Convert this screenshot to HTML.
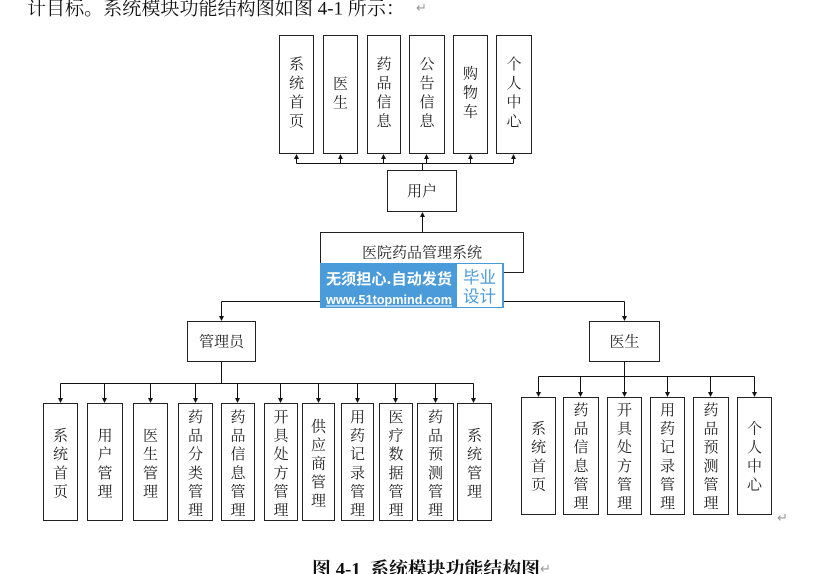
<!DOCTYPE html>
<html><head><meta charset="utf-8"><style>
html,body{margin:0;padding:0;background:#fff;width:827px;height:574px;overflow:hidden}
svg{display:block}
.t{font-family:"Liberation Serif","Noto Serif CJK SC",serif;font-size:15px;fill:#222;text-anchor:middle}
.l{stroke:#111;stroke-width:1;fill:none}
.b{stroke:#222;stroke-width:1;fill:#fff}
.a{fill:#111}
.rm{font-family:"DejaVu Sans",sans-serif;font-size:13px;fill:#999}
</style></head><body>
<svg width="827" height="574" viewBox="0 0 827 574" xmlns="http://www.w3.org/2000/svg">
<!-- top paragraph text -->
<text x="27" y="14.5" textLength="378" lengthAdjust="spacingAndGlyphs" style="font-family:'Liberation Serif','Noto Serif CJK SC',serif;font-size:19px;fill:#111">计目标。系统模块功能结构图如图 4-1 所示：</text>
<text class="rm" x="416" y="12">↵</text>

<!-- top boxes -->
<rect class="b" x="279.5" y="35.5" width="34" height="118"/>
<rect class="b" x="323.5" y="35.5" width="34" height="118"/>
<rect class="b" x="367.5" y="35.5" width="33" height="118"/>
<rect class="b" x="409.5" y="35.5" width="35" height="118"/>
<rect class="b" x="453.5" y="35.5" width="34" height="118"/>
<rect class="b" x="496.5" y="35.5" width="35" height="118"/>
<text class="t"><tspan x="296.5" y="69">系</tspan><tspan x="296.5" y="88">统</tspan><tspan x="296.5" y="107">首</tspan><tspan x="296.5" y="126">页</tspan></text>
<text class="t"><tspan x="340.5" y="88.5">医</tspan><tspan x="340.5" y="107.5">生</tspan></text>
<text class="t"><tspan x="384" y="69">药</tspan><tspan x="384" y="88">品</tspan><tspan x="384" y="107">信</tspan><tspan x="384" y="126">息</tspan></text>
<text class="t"><tspan x="427" y="69">公</tspan><tspan x="427" y="88">告</tspan><tspan x="427" y="107">信</tspan><tspan x="427" y="126">息</tspan></text>
<text class="t"><tspan x="470.5" y="78.5">购</tspan><tspan x="470.5" y="97.5">物</tspan><tspan x="470.5" y="116.5">车</tspan></text>
<text class="t"><tspan x="514" y="69">个</tspan><tspan x="514" y="88">人</tspan><tspan x="514" y="107">中</tspan><tspan x="514" y="126">心</tspan></text>

<!-- top connectors -->
<path class="l" d="M296.5 163.5H513.5 M296.5 163.5V158 M340.5 163.5V158 M383.5 163.5V158 M426.5 163.5V158 M470.5 163.5V158 M513.5 163.5V158 M422.5 163.5V170"/>
<polygon class="a" points="294,159 299,159 296.5,154"/>
<polygon class="a" points="338,159 343,159 340.5,154"/>
<polygon class="a" points="381,159 386,159 383.5,154"/>
<polygon class="a" points="424,159 429,159 426.5,154"/>
<polygon class="a" points="468,159 473,159 470.5,154"/>
<polygon class="a" points="511,159 516,159 513.5,154"/>

<!-- 用户 -->
<rect class="b" x="387.5" y="170.5" width="69" height="41"/>
<text class="t" x="422" y="196">用户</text>
<path class="l" d="M422.5 232V216"/>
<polygon class="a" points="420,217 425,217 422.5,212"/>

<!-- main box -->
<rect class="b" x="320.5" y="232.5" width="203" height="40"/>
<text class="t" x="422" y="257.5">医院药品管理系统</text>

<!-- second level connectors -->
<path class="l" d="M422.5 273V301.5 M221.5 301.5H624.5 M221.5 301.5V316 M624.5 301.5V316"/>
<polygon class="a" points="219,316 224,316 221.5,321"/>
<polygon class="a" points="622,316 627,316 624.5,321"/>

<!-- watermark -->
<rect x="320" y="263" width="184" height="45" fill="#4a9bd9"/>
<rect x="457" y="264" width="45" height="43" fill="#fff"/>
<text x="326" y="284" textLength="126" lengthAdjust="spacingAndGlyphs" style="font-family:'Noto Sans CJK SC',sans-serif;font-weight:bold;font-size:15px;fill:#fff">无须担心.自动发货</text>
<text x="326" y="304" textLength="126" lengthAdjust="spacingAndGlyphs" style="font-family:'Liberation Sans',sans-serif;font-weight:bold;font-size:13px;fill:#fff">www.51topmind.com</text>
<rect x="326" y="305.5" width="126" height="1" fill="#fff"/>
<text x="479.5" y="283" text-anchor="middle" style="font-family:'Noto Sans CJK SC',sans-serif;font-size:16.5px;fill:#4a9bd9">毕业</text>
<text x="479.5" y="302" text-anchor="middle" style="font-family:'Noto Sans CJK SC',sans-serif;font-size:16.5px;fill:#4a9bd9">设计</text>

<!-- 管理员 / 医生 -->
<rect class="b" x="187.5" y="321.5" width="68" height="40"/>
<text class="t" x="221.5" y="346.5">管理员</text>
<rect class="b" x="589.5" y="321.5" width="70" height="40"/>
<text class="t" x="624.5" y="346.5">医生</text>

<!-- left group connectors -->
<path class="l" d="M221.5 361.5V383.5 M60.5 383.5H473.5 M60.5 383.5V398 M104.5 383.5V398 M150.5 383.5V398 M195.5 383.5V398 M237.5 383.5V398 M280.5 383.5V398 M318.5 383.5V398 M357.5 383.5V398 M395.5 383.5V398 M435.5 383.5V398 M473.5 383.5V398"/>
<g class="a">
<polygon points="58,398 63,398 60.5,403"/>
<polygon points="102,398 107,398 104.5,403"/>
<polygon points="148,398 153,398 150.5,403"/>
<polygon points="193,398 198,398 195.5,403"/>
<polygon points="235,398 240,398 237.5,403"/>
<polygon points="278,398 283,398 280.5,403"/>
<polygon points="316,398 321,398 318.5,403"/>
<polygon points="355,398 360,398 357.5,403"/>
<polygon points="393,398 398,398 395.5,403"/>
<polygon points="433,398 438,398 435.5,403"/>
<polygon points="471,398 476,398 473.5,403"/>
</g>

<!-- left group boxes -->
<rect class="b" x="43.5" y="403.5" width="34" height="117"/>
<rect class="b" x="87.5" y="403.5" width="35" height="117"/>
<rect class="b" x="133.5" y="403.5" width="34" height="117"/>
<rect class="b" x="178.5" y="403.5" width="34" height="117"/>
<rect class="b" x="221.5" y="403.5" width="33" height="117"/>
<rect class="b" x="264.5" y="403.5" width="33" height="117"/>
<rect class="b" x="302.5" y="403.5" width="32" height="117"/>
<rect class="b" x="341.5" y="403.5" width="32" height="117"/>
<rect class="b" x="379.5" y="403.5" width="33" height="117"/>
<rect class="b" x="417.5" y="403.5" width="36" height="117"/>
<rect class="b" x="457.5" y="403.5" width="34" height="117"/>

<text class="t"><tspan x="60.5" y="440.6">系</tspan><tspan x="60.5" y="459.2">统</tspan><tspan x="60.5" y="477.8">首</tspan><tspan x="60.5" y="496.4">页</tspan></text>
<text class="t"><tspan x="105" y="440.6">用</tspan><tspan x="105" y="459.2">户</tspan><tspan x="105" y="477.8">管</tspan><tspan x="105" y="496.4">理</tspan></text>
<text class="t"><tspan x="150.5" y="440.6">医</tspan><tspan x="150.5" y="459.2">生</tspan><tspan x="150.5" y="477.8">管</tspan><tspan x="150.5" y="496.4">理</tspan></text>
<text class="t"><tspan x="195.5" y="422">药</tspan><tspan x="195.5" y="440.6">品</tspan><tspan x="195.5" y="459.2">分</tspan><tspan x="195.5" y="477.8">类</tspan><tspan x="195.5" y="496.4">管</tspan><tspan x="195.5" y="515">理</tspan></text>
<text class="t"><tspan x="238" y="422">药</tspan><tspan x="238" y="440.6">品</tspan><tspan x="238" y="459.2">信</tspan><tspan x="238" y="477.8">息</tspan><tspan x="238" y="496.4">管</tspan><tspan x="238" y="515">理</tspan></text>
<text class="t"><tspan x="281" y="422">开</tspan><tspan x="281" y="440.6">具</tspan><tspan x="281" y="459.2">处</tspan><tspan x="281" y="477.8">方</tspan><tspan x="281" y="496.4">管</tspan><tspan x="281" y="515">理</tspan></text>
<text class="t"><tspan x="318.5" y="431.3">供</tspan><tspan x="318.5" y="449.9">应</tspan><tspan x="318.5" y="468.5">商</tspan><tspan x="318.5" y="487.1">管</tspan><tspan x="318.5" y="505.7">理</tspan></text>
<text class="t"><tspan x="357.5" y="422">用</tspan><tspan x="357.5" y="440.6">药</tspan><tspan x="357.5" y="459.2">记</tspan><tspan x="357.5" y="477.8">录</tspan><tspan x="357.5" y="496.4">管</tspan><tspan x="357.5" y="515">理</tspan></text>
<text class="t"><tspan x="396" y="422">医</tspan><tspan x="396" y="440.6">疗</tspan><tspan x="396" y="459.2">数</tspan><tspan x="396" y="477.8">据</tspan><tspan x="396" y="496.4">管</tspan><tspan x="396" y="515">理</tspan></text>
<text class="t"><tspan x="435.5" y="422">药</tspan><tspan x="435.5" y="440.6">品</tspan><tspan x="435.5" y="459.2">预</tspan><tspan x="435.5" y="477.8">测</tspan><tspan x="435.5" y="496.4">管</tspan><tspan x="435.5" y="515">理</tspan></text>
<text class="t"><tspan x="474.5" y="440.6">系</tspan><tspan x="474.5" y="459.2">统</tspan><tspan x="474.5" y="477.8">管</tspan><tspan x="474.5" y="496.4">理</tspan></text>

<!-- right group connectors -->
<path class="l" d="M624.5 361.5V376.5 M538.5 376.5H754.5 M538.5 376.5V392 M580.5 376.5V392 M624.5 376.5V392 M667.5 376.5V392 M710.5 376.5V392 M754.5 376.5V392"/>
<g class="a">
<polygon points="536,392 541,392 538.5,397"/>
<polygon points="578,392 583,392 580.5,397"/>
<polygon points="622,392 627,392 624.5,397"/>
<polygon points="665,392 670,392 667.5,397"/>
<polygon points="708,392 713,392 710.5,397"/>
<polygon points="752,392 757,392 754.5,397"/>
</g>

<!-- right group boxes -->
<rect class="b" x="521.5" y="397.5" width="34" height="117"/>
<rect class="b" x="563.5" y="397.5" width="35" height="117"/>
<rect class="b" x="607.5" y="397.5" width="34" height="117"/>
<rect class="b" x="650.5" y="397.5" width="34" height="117"/>
<rect class="b" x="693.5" y="397.5" width="35" height="117"/>
<rect class="b" x="737.5" y="397.5" width="34" height="117"/>

<text class="t"><tspan x="538.5" y="433.6">系</tspan><tspan x="538.5" y="452.2">统</tspan><tspan x="538.5" y="470.8">首</tspan><tspan x="538.5" y="489.4">页</tspan></text>
<text class="t"><tspan x="581" y="415">药</tspan><tspan x="581" y="433.6">品</tspan><tspan x="581" y="452.2">信</tspan><tspan x="581" y="470.8">息</tspan><tspan x="581" y="489.4">管</tspan><tspan x="581" y="508">理</tspan></text>
<text class="t"><tspan x="624.5" y="415">开</tspan><tspan x="624.5" y="433.6">具</tspan><tspan x="624.5" y="452.2">处</tspan><tspan x="624.5" y="470.8">方</tspan><tspan x="624.5" y="489.4">管</tspan><tspan x="624.5" y="508">理</tspan></text>
<text class="t"><tspan x="667.5" y="415">用</tspan><tspan x="667.5" y="433.6">药</tspan><tspan x="667.5" y="452.2">记</tspan><tspan x="667.5" y="470.8">录</tspan><tspan x="667.5" y="489.4">管</tspan><tspan x="667.5" y="508">理</tspan></text>
<text class="t"><tspan x="711" y="415">药</tspan><tspan x="711" y="433.6">品</tspan><tspan x="711" y="452.2">预</tspan><tspan x="711" y="470.8">测</tspan><tspan x="711" y="489.4">管</tspan><tspan x="711" y="508">理</tspan></text>
<text class="t"><tspan x="754.5" y="433.6">个</tspan><tspan x="754.5" y="452.2">人</tspan><tspan x="754.5" y="470.8">中</tspan><tspan x="754.5" y="489.4">心</tspan></text>

<text class="rm" x="777" y="522">↵</text>

<!-- caption -->
<text x="312" y="575" textLength="228" lengthAdjust="spacingAndGlyphs" style="font-family:'Liberation Serif','Noto Serif CJK SC',serif;font-weight:bold;font-size:18px;fill:#111">图 4-1&#160;&#160;系统模块功能结构图</text>
<text class="rm" x="540" y="573">↵</text>
</svg>
</body></html>
